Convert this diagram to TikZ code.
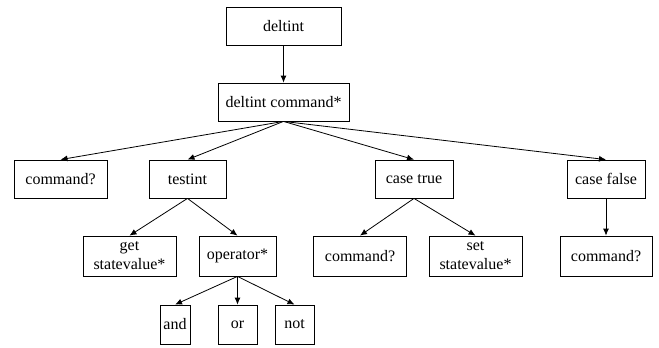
\documentclass[tikz,border=0pt]{standalone}
\usepackage{fontspec}
\setmainfont{Liberation Serif}
\usetikzlibrary{arrows.meta}
\begin{document}
\begin{tikzpicture}[x=1pt,y=-1pt,
  box/.style={draw, line width=0.8pt, rectangle, inner sep=0pt, align=center,
    font=\fontsize{16}{19}\selectfont},
  arr/.style={line width=0.8pt, -{Latex[length=7pt,width=6pt]}}]
\useasboundingbox (0,0) rectangle (659,348);
\node[box, minimum width=115pt, minimum height=38pt] (deltint) at (283.5,26) {deltint};
\node[box, minimum width=131pt, minimum height=38pt] (dcmd) at (283.5,102) {deltint command*};
\node[box, minimum width=93pt, minimum height=38pt] (cmd1) at (60.5,179) {command?};
\node[box, minimum width=77pt, minimum height=38pt] (testint) at (187.5,179) {testint};
\node[box, minimum width=78pt, minimum height=38pt] (ctrue) at (414,179) {case true};
\node[box, minimum width=78pt, minimum height=38pt] (cfalse) at (606,179) {case false};
\node[box, minimum width=93pt, minimum height=40pt] (getsv) at (129.5,256) {get\\statevalue*};
\node[box, minimum width=77pt, minimum height=40pt] (oper) at (237.5,256) {operator*};
\node[box, minimum width=93pt, minimum height=40pt] (cmd2) at (360,256) {command?};
\node[box, minimum width=93pt, minimum height=40pt] (setsv) at (475.5,256) {set\\statevalue*};
\node[box, minimum width=92pt, minimum height=40pt] (cmd3) at (606,256) {command?};
\node[box, minimum width=30pt, minimum height=39pt] (and) at (175,324.5) {and};
\node[box, minimum width=39pt, minimum height=39pt] (or) at (237.5,324.5) {or};
\node[box, minimum width=39pt, minimum height=39pt] (not) at (294.5,324.5) {not};
\draw[arr] (deltint.south) -- (dcmd.north);
\draw[arr] (dcmd.south) -- (cmd1.north);
\draw[arr] (dcmd.south) -- (testint.north);
\draw[arr] (dcmd.south) -- (ctrue.north);
\draw[arr] (dcmd.south) -- (cfalse.north);
\draw[arr] (testint.south) -- (getsv.north);
\draw[arr] (testint.south) -- (oper.north);
\draw[arr] (ctrue.south) -- (cmd2.north);
\draw[arr] (ctrue.south) -- (setsv.north);
\draw[arr] (cfalse.south) -- (cmd3.north);
\draw[arr] (oper.south) -- (and.north);
\draw[arr] (oper.south) -- (or.north);
\draw[arr] (oper.south) -- (not.north);
\end{tikzpicture}
\end{document}
